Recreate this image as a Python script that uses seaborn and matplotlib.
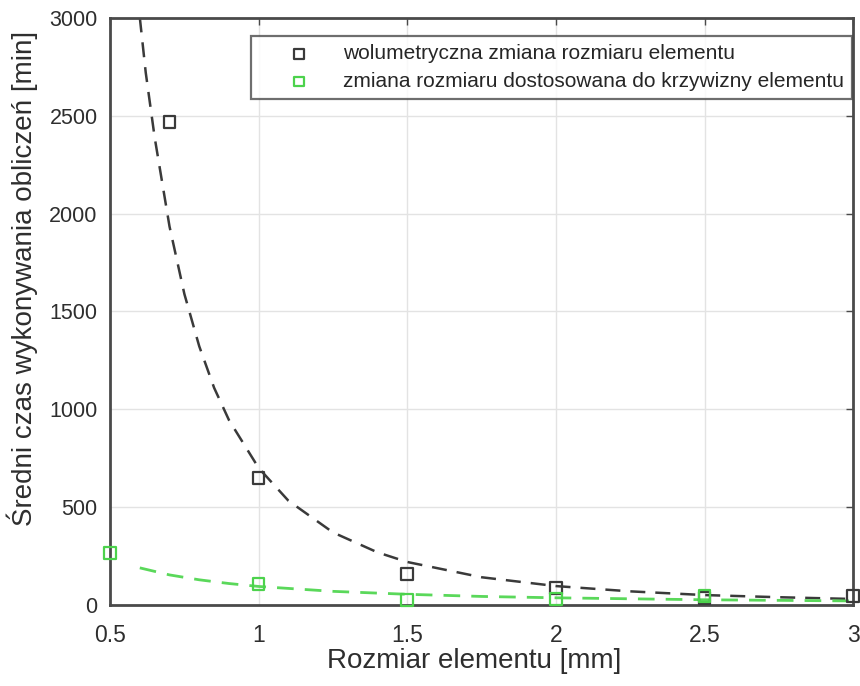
import numpy as np
import pandas as pd
import matplotlib
matplotlib.use("Agg")
import matplotlib.pyplot as plt
import seaborn as sns

# measured points
vol_x = [0.7, 1.0, 1.5, 2.0, 2.5, 3.0]
vol_time = [2468, 649, 158, 87, 36, 46]
curv_x = [0.5, 1.0, 1.5, 2.0, 2.5]
curv_time = [266, 107, 26, 31, 45]

# trend lines
vol_fit_x = [0.6, 0.62, 0.65, 0.7, 0.75, 0.8, 0.85, 0.9, 1.0, 1.1, 1.25, 1.4, 1.5, 1.75, 2.0, 2.25, 2.5, 2.75, 3.0]
vol_fit_y = [3002, 2720, 2389, 1934, 1589, 1322, 1110, 945, 700, 533, 371, 269, 220, 142, 97, 70, 51, 40, 31]
curv_fit_x = [0.6, 0.7, 0.8, 0.9, 1.0, 1.25, 1.5, 1.75, 2.0, 2.5, 3.0]
curv_fit_y = [190, 154, 129, 110, 95, 70, 55, 44, 37, 27, 21]

labels = ["wolumetryczna zmiana rozmiaru elementu",
          "zmiana rozmiaru dostosowana do krzywizny elementu"]

black = "#3a3a3a"
green = "#4cd24c"

sns.set_style("whitegrid")
plt.rcParams["font.family"] = ["Liberation Sans", "DejaVu Sans"]

fig = plt.figure(figsize=(8.6, 6.86), dpi=100)
ax = fig.add_axes([0.128, 0.118, 0.864, 0.856])

sns.lineplot(x=vol_fit_x, y=vol_fit_y, ax=ax, color=black, linestyle=(0, (6, 4)),
             linewidth=1.8, sort=True)
sns.lineplot(x=curv_fit_x, y=curv_fit_y, ax=ax, color="#5ad85a", linestyle=(0, (6, 4)),
             linewidth=2.0, sort=True)

h1 = ax.scatter(vol_x, vol_time, marker="s", s=70, facecolors="none",
                edgecolors=black, linewidths=1.6, zorder=5, clip_on=False)
h2 = ax.scatter(curv_x, curv_time, marker="s", s=70, facecolors="none",
                edgecolors=green, linewidths=1.6, zorder=5, clip_on=False)

ax.set_xlim(0.5, 3)
ax.set_ylim(0, 3000)
ax.set_xticks([0.5, 1, 1.5, 2, 2.5, 3])
ax.set_xticklabels(["0.5", "1", "1.5", "2", "2.5", "3"])
ax.set_yticks([0, 500, 1000, 1500, 2000, 2500, 3000])

ax.grid(True, color="#e3e3e3", linewidth=1)
for s in ax.spines.values():
    s.set_color("#4a4a4a")
    s.set_linewidth(2)
ax.tick_params(direction="in", length=5, width=1, colors="#4a4a4a",
               labelcolor="#2e2e2e", labelsize=15.5, top=True, right=True)
ax.tick_params(axis="y", pad=9)
ax.tick_params(axis="x", pad=14, labelsize=16.5)

ax.set_xlabel("Rozmiar elementu [mm]", fontsize=20, color="#2e2e2e")
ax.set_ylabel("Średni czas wykonywania obliczeń [min]", fontsize=20,
              color="#2e2e2e")
ax.xaxis.set_label_coords(0.49, -0.073)
ax.yaxis.set_label_coords(-0.097, 0.557)

leg = ax.legend([h1, h2], labels, loc="upper right", bbox_to_anchor=(0.9985, 0.969),
                fontsize=15, frameon=True, fancybox=False, handlelength=3.8,
                handletextpad=0.2, borderpad=0.4, labelspacing=0.4,
                borderaxespad=0, markerscale=0.8)
leg.get_frame().set_edgecolor("#4a4a4a")
leg.get_frame().set_linewidth(1.6)

fig.savefig("out.png", dpi=100)
